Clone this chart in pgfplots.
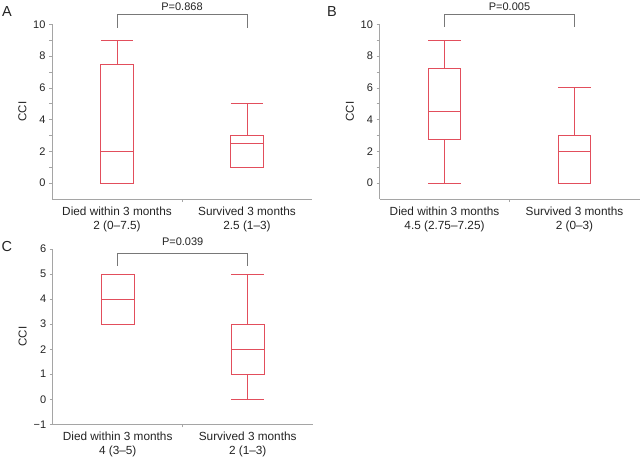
\documentclass[border=0pt]{standalone}
\usepackage{fontspec}
\setmainfont{Liberation Sans}
\usepackage{pgfplots}
\pgfplotsset{compat=1.18}
\usepgfplotslibrary{statistics}
\definecolor{boxred}{RGB}{226,78,92}
\definecolor{axisgray}{RGB}{165,165,165}
\definecolor{brgray}{RGB}{120,120,120}
\definecolor{txt}{RGB}{35,35,35}
\pgfplotsset{
  boxstyle/.style={draw=boxred, color=boxred, line width=0.9pt, solid, mark=none,
    boxplot/every box/.style={draw=boxred, line width=0.9pt},
    boxplot/every whisker/.style={draw=boxred, line width=0.9pt},
    boxplot/every median/.style={draw=boxred, line width=0.9pt}},
  panel/.style={
    anchor=south west, scale only axis, width=260pt,
    xmin=0.5, xmax=2.5,
    axis lines=left, axis line style={-, draw=axisgray, line width=0.6pt},
    tick align=outside, major tick length=3pt, minor tick length=3pt,
    every tick/.style={draw=axisgray, line width=0.6pt},
    /pgf/number format/assume math mode=true,
    yticklabel style={font=\fontsize{11}{13}\selectfont, text=txt},
    xtick={1,2}, xtick style={draw=none},
    xticklabel style={font=\fontsize{11.8}{14}\selectfont, text=txt, align=center, yshift=-1pt},
    extra x ticks={1.5}, extra x tick labels={},
    extra x tick style={xtick style={draw=axisgray}},
    ylabel={CCI}, ylabel style={font=\fontsize{11.5}{13.5}\selectfont, text=txt},
    clip=false,
    boxplot/draw direction=y,
  },
}
\begin{document}
\begin{tikzpicture}
\path[use as bounding box] (0,0) rectangle (643pt,457pt);
% Panel A
\begin{axis}[panel, at={(52pt,258pt)}, height=174.7pt, ymin=-1, ymax=10,
  ytick={0,2,...,10}, minor ytick={1,3,5,7,9},
  xticklabels={Died within 3 months\\2 (0–7.5), Survived 3 months\\2.5 (1–3)}]
\addplot[boxstyle, boxplot prepared={draw position=1, lower whisker=0, lower quartile=0, median=2, upper quartile=7.5, upper whisker=9, box extend=0.25, whisker extend=0.25}] coordinates {};
\addplot[boxstyle, boxplot prepared={draw position=2, lower whisker=1, lower quartile=1, median=2.5, upper quartile=3, upper whisker=5, box extend=0.25, whisker extend=0.25}] coordinates {};
\addplot[brgray, line width=0.6pt] coordinates {(1,9.79) (1,10.65) (2,10.65) (2,9.79)};
\node[anchor=base, font=\fontsize{11}{13}\selectfont, text=txt] at (axis cs:1.5,10.86) {P=0.868};
\end{axis}
% Panel B
\begin{axis}[panel, at={(379.5pt,258pt)}, height=174.7pt, ymin=-1, ymax=10,
  ytick={0,2,...,10}, minor ytick={1,3,5,7,9},
  xticklabels={Died within 3 months\\4.5 (2.75–7.25), Survived 3 months\\2 (0–3)}]
\addplot[boxstyle, boxplot prepared={draw position=1, lower whisker=0, lower quartile=2.75, median=4.5, upper quartile=7.25, upper whisker=9, box extend=0.25, whisker extend=0.25}] coordinates {};
\addplot[boxstyle, boxplot prepared={draw position=2, lower whisker=0, lower quartile=0, median=2, upper quartile=3, upper whisker=6, box extend=0.25, whisker extend=0.25}] coordinates {};
\addplot[brgray, line width=0.6pt] coordinates {(1,9.86) (1,10.65) (2,10.65) (2,9.86)};
\node[anchor=base, font=\fontsize{11}{13}\selectfont, text=txt] at (axis cs:1.5,10.86) {P=0.005};
\end{axis}
% Panel C
\begin{axis}[panel, at={(52.7pt,32.7pt)}, height=175.3pt, ymin=-1, ymax=6,
  ytick={-1,0,...,6}, yticklabels={−1,0,1,2,3,4,5,6},
  xticklabels={Died within 3 months\\4 (3–5), Survived 3 months\\2 (1–3)}]
\addplot[boxstyle, boxplot prepared={draw position=1, lower whisker=3, lower quartile=3, median=4, upper quartile=5, upper whisker=5, box extend=0.25, whisker extend=0.25}] coordinates {};
\addplot[boxstyle, boxplot prepared={draw position=2, lower whisker=0, lower quartile=1, median=2, upper quartile=3, upper whisker=5, box extend=0.25, whisker extend=0.25}] coordinates {};
\addplot[brgray, line width=0.6pt] coordinates {(1,5.33) (1,5.83) (2,5.83) (2,5.33)};
\node[anchor=base, font=\fontsize{11}{13}\selectfont, text=txt] at (axis cs:1.5,6.13) {P=0.039};
\end{axis}
% Panel letters
\node[anchor=base west, inner sep=0pt, font=\fontsize{14.5}{16}\selectfont, text=txt] at (2pt,440pt) {A};
\node[anchor=base west, inner sep=0pt, font=\fontsize{14.5}{16}\selectfont, text=txt] at (327pt,440pt) {B};
\node[anchor=base west, inner sep=0pt, font=\fontsize{14.5}{16}\selectfont, text=txt] at (1.5pt,205pt) {C};
\end{tikzpicture}
\end{document}
